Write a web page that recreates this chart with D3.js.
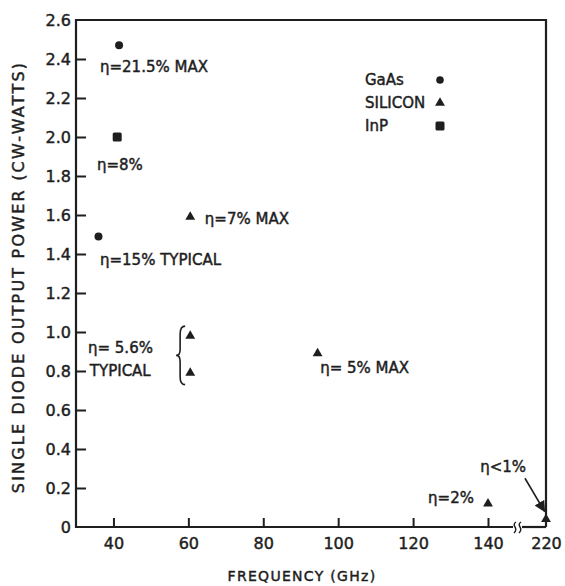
<!DOCTYPE html>
<html>
<head>
<meta charset="utf-8">
<script src="https://cdn.jsdelivr.net/npm/d3@7"></script>
<style>
  body { margin: 0; background: #fff; }
  text { font-family: "DejaVu Sans", sans-serif; fill: #1e1e1e; stroke: #1e1e1e; stroke-width: 0.45px; }
</style>
</head>
<body>
<div id="chart"></div>
<script>
// data
var gaasFreq = [41.5, 36];
var gaasPower = [2.47, 1.49];
var siliconFreq = [60.5, 60.5, 60.5, 94.5, 140, 220];
var siliconPower = [1.59, 0.98, 0.79, 0.89, 0.12, 0.04];
var inpFreq = [41];
var inpPower = [2.0];

var xTicks = [40, 60, 80, 100, 120, 140, 220];
var yTicks = [0, 0.2, 0.4, 0.6, 0.8, 1.0, 1.2, 1.4, 1.6, 1.8, 2.0, 2.2, 2.4, 2.6];
var yTickLabels = ["0", "0.2", "0.4", "0.6", "0.8", "1.0", "1.2", "1.4", "1.6", "1.8", "2.0", "2.2", "2.4", "2.6"];

var legendLabels = ["GaAs", "SILICON", "InP"];
var noteTexts = ["η=21.5% MAX", "η=8%", "η=15% TYPICAL", "η=7% MAX", "η= 5.6%", "TYPICAL", "η= 5% MAX", "η=2%", "η<1%"];
var noteFreq = [36.4, 35.6, 36.4, 64.4, 33.2, 33.7, 95.2, 124, 137.9];
var notePower = [2.36, 1.86, 1.37, 1.58, 0.92, 0.80, 0.82, 0.15, 0.31];

var width = 565, height = 586;
var ink = "#1e1e1e";

var svg = d3.select("#chart").append("svg")
  .attr("width", width)
  .attr("height", height);

// x axis has a break between 140 and 220
var x = d3.scaleLinear().domain([30, 140, 220]).range([76, 488, 546]);
var y = d3.scaleLinear().domain([0, 2.6]).range([527, 20]);

var x0 = x(30), x1 = x(220), y0 = y(0), y1 = y(2.6);

// frame
svg.append("path")
  .attr("d", "M" + x1 + "," + y0 + "V" + y1 + "H" + x0 + "V" + y0 + "H" + (x(140) + 25))
  .attr("fill", "none").attr("stroke", ink).attr("stroke-width", 2.2);
svg.append("path")
  .attr("d", "M" + (x(140) + 34) + "," + y0 + "H" + x1)
  .attr("fill", "none").attr("stroke", ink).attr("stroke-width", 2.2);
// break marks
[x(140) + 27, x(140) + 32].forEach(function(bx) {
  svg.append("path")
    .attr("d", "M" + (bx + 1) + "," + (y0 - 5) + "q-3,2 -1,5 q2,3 -1,6")
    .attr("fill", "none").attr("stroke", ink).attr("stroke-width", 1.4);
});

// x axis
var xAxis = svg.append("g")
  .attr("transform", "translate(0," + y0 + ")")
  .call(d3.axisBottom(x).tickValues(xTicks).tickSize(-9).tickPadding(10));
xAxis.select(".domain").remove();
xAxis.selectAll(".tick line").attr("stroke", ink).attr("stroke-width", 2);
xAxis.selectAll(".tick text")
  .style("font-size", "16px").attr("fill", ink).attr("dy", "0.72em");
xAxis.selectAll(".tick").filter(function(d) { return d === 220; }).select("line").remove();

// y axis
var yAxis = svg.append("g")
  .attr("transform", "translate(" + x0 + ",0)")
  .call(d3.axisLeft(y).tickValues(yTicks).tickSize(-10).tickPadding(5)
    .tickFormat(function(d, i) { return yTickLabels[i]; }));
yAxis.select(".domain").remove();
yAxis.selectAll(".tick line").attr("stroke", ink).attr("stroke-width", 2);
yAxis.selectAll(".tick text").style("font-size", "16px").attr("fill", ink);
yAxis.selectAll(".tick").filter(function(d) { return d === 0 || d === 2.6; }).select("line").remove();

// axis titles
svg.append("text")
  .attr("transform", "translate(" + 24 + "," + 277 + ") rotate(-90)")
  .attr("text-anchor", "middle")
  .style("font-size", "16px")
  .style("letter-spacing", "2.2px")
  .text("SINGLE DIODE OUTPUT POWER (CW-WATTS)");
svg.append("text")
  .attr("x", 302).attr("y", 581)
  .attr("text-anchor", "middle")
  .style("font-size", "14px")
  .style("letter-spacing", "1.3px")
  .text("FREQUENCY (GHz)");

// markers
var tri = d3.symbol().type(d3.symbolTriangle).size(42);

svg.selectAll(".gaas")
  .data(gaasFreq)
  .enter().append("circle")
  .attr("class", "gaas")
  .attr("cx", function(d) { return x(d); })
  .attr("cy", function(d, i) { return y(gaasPower[i]); })
  .attr("r", 4)
  .attr("fill", ink);

svg.selectAll(".si")
  .data(siliconFreq)
  .enter().append("path")
  .attr("class", "si")
  .attr("transform", function(d, i) { return "translate(" + x(d) + "," + y(siliconPower[i]) + ")"; })
  .attr("d", tri)
  .attr("fill", ink);

svg.selectAll(".inp")
  .data(inpFreq)
  .enter().append("rect")
  .attr("class", "inp")
  .attr("x", function(d) { return x(d) - 4.5; })
  .attr("y", function(d, i) { return y(inpPower[i]) - 4.5; })
  .attr("width", 9).attr("height", 9).attr("rx", 1.5)
  .attr("fill", ink);

// legend
var legend = svg.append("g").attr("transform", "translate(365,80)");
legendLabels.forEach(function(name, i) {
  var g = legend.append("g").attr("transform", "translate(0," + (i * 23) + ")");
  g.append("text").attr("dy", "0.36em").style("font-size", "15px").text(name);
  if (i === 0) g.append("circle").attr("cx", 75).attr("r", 3.8).attr("fill", ink);
  if (i === 1) g.append("path").attr("transform", "translate(75,0)").attr("d", tri).attr("fill", ink);
  if (i === 2) g.append("rect").attr("x", 70.5).attr("y", -4.5).attr("width", 9).attr("height", 9).attr("rx", 1.5).attr("fill", ink);
});

// annotations
svg.selectAll(".note")
  .data(noteTexts)
  .enter().append("text")
  .attr("class", "note")
  .attr("x", function(d, i) { return x(noteFreq[i]); })
  .attr("y", function(d, i) { return y(notePower[i]); })
  .attr("dy", "0.36em")
  .style("font-size", "15px")
  .text(function(d) { return d; });

// brace grouping the two 5.6% triangles
var bx = x(57.8), bt = y(1.03), bb = y(0.73), bm = (bt + bb) / 2;
svg.append("path")
  .attr("d", "M" + (bx + 5) + "," + bt + "q-5,0 -5,8 v" + (bm - bt - 14) + "q0,6 -4,6 q4,0 4,6 v" + (bb - bm - 14) + "q0,8 5,8")
  .attr("fill", "none").attr("stroke", ink).attr("stroke-width", 1.6);

// arrow to the 220 GHz point
svg.append("defs").append("marker")
  .attr("id", "head").attr("viewBox", "0 0 10 10")
  .attr("refX", 9).attr("refY", 5)
  .attr("markerWidth", 7).attr("markerHeight", 7)
  .attr("orient", "auto")
  .append("path").attr("d", "M0,0L10,5L0,10z").attr("fill", ink);
svg.append("line")
  .attr("x1", x(191)).attr("y1", y(0.25))
  .attr("x2", x(218)).attr("y2", y(0.08))
  .attr("stroke", ink).attr("stroke-width", 1.6)
  .attr("marker-end", "url(#head)");
</script>
</body>
</html>
